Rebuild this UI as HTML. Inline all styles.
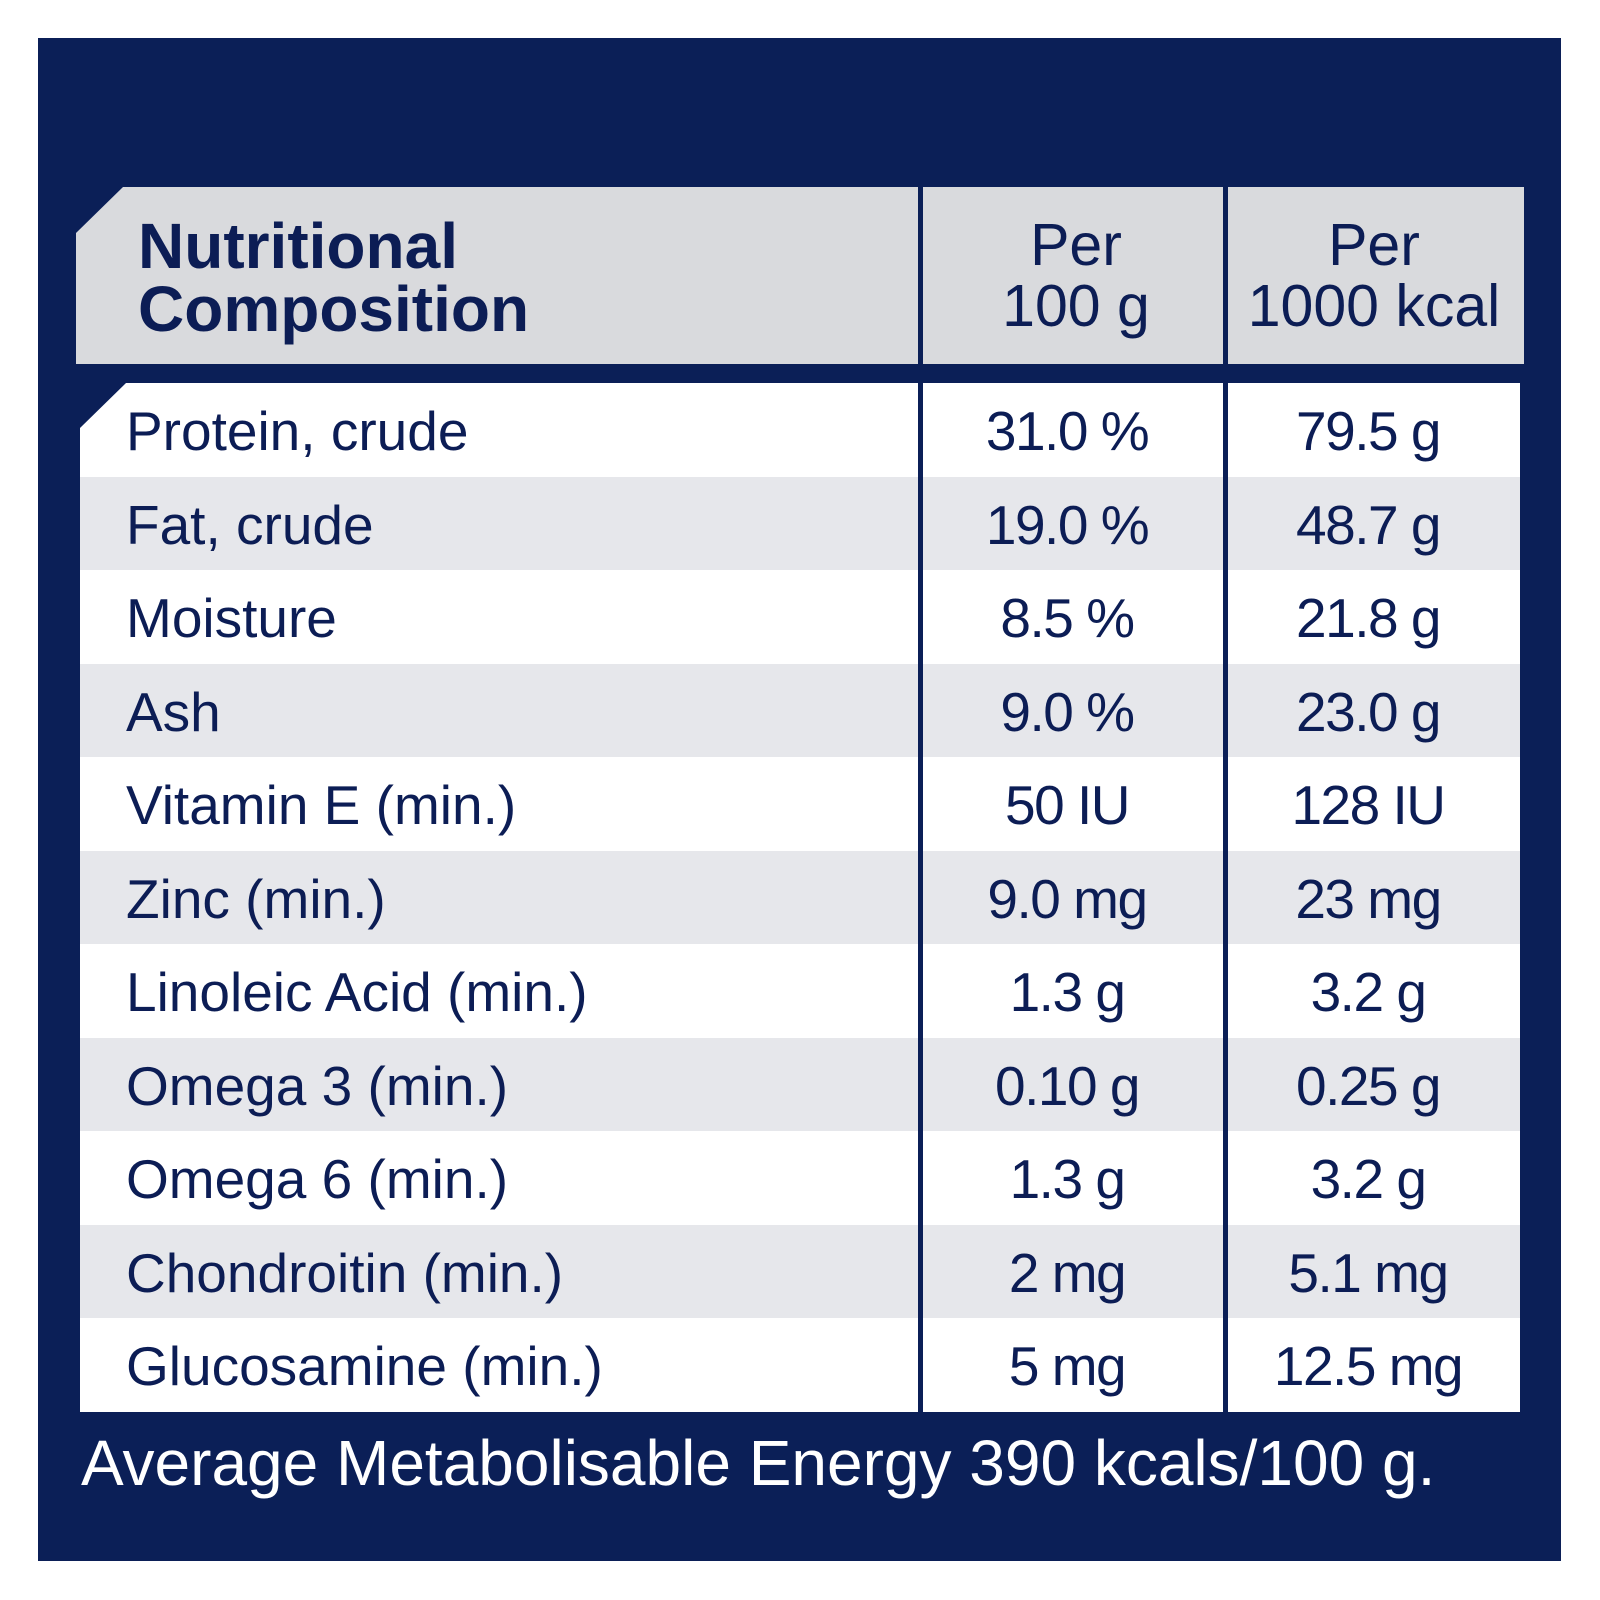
<!DOCTYPE html>
<html>
<head>
<meta charset="utf-8">
<style>
  html, body { margin:0; padding:0; }
  body { width:1600px; height:1600px; background:#ffffff; position:relative; overflow:hidden;
         font-family:"Liberation Sans", Arial, sans-serif; }
  .navy { position:absolute; left:38px; top:38px; width:1523px; height:1523px; background:#0b1f57; }
  .header { position:absolute; left:76px; top:187px; width:1448px; height:177px; background:#d9dadd;
            clip-path: polygon(47px 0, 100% 0, 100% 100%, 0 100%, 0 46px); }
  .bodyt { position:absolute; left:80px; top:383px; width:1440px; height:1029px; background:#ffffff;
           clip-path: polygon(46px 0, 100% 0, 100% 100%, 0 100%, 0 45px); overflow:hidden; }
  .row { position:absolute; left:0; width:1440px; height:93.5px; }
  .row.g { background:#e6e7eb; }
  .div { position:absolute; top:187px; height:1225px; width:5.6px; background:#0b1f57; }
  .t { position:absolute; color:#0c1d55; white-space:nowrap; }
  .lbl { left:126px; font-size:55px; line-height:93.5px; height:93.5px; }
  .v2 { left:917px; width:300px; text-align:center; font-size:55px; line-height:93.5px; letter-spacing:-1.5px; }
  .v3 { left:1222px; width:292px; text-align:center; font-size:55px; line-height:93.5px; letter-spacing:-1.5px; }
  .h1 { left:138px; top:215px; font-size:64px; font-weight:bold; line-height:63px; }
  .h2 { left:926px; width:300px; top:215px; text-align:center; font-size:59px; line-height:61px; }
  .h3 { left:1228px; width:292px; top:215px; text-align:center; font-size:59px; line-height:61px; }
  .foot { position:absolute; left:81px; top:1431px; font-size:64px; line-height:65px; color:#ffffff; white-space:nowrap; }
</style>
</head>
<body>
<div class="navy"></div>
<div class="header"></div>
<div class="bodyt">
  <div class="row" style="top:0px"></div>
  <div class="row g" style="top:93.5px"></div>
  <div class="row" style="top:187px"></div>
  <div class="row g" style="top:280.5px"></div>
  <div class="row" style="top:374px"></div>
  <div class="row g" style="top:467.5px"></div>
  <div class="row" style="top:561px"></div>
  <div class="row g" style="top:654.5px"></div>
  <div class="row" style="top:748px"></div>
  <div class="row g" style="top:841.5px"></div>
  <div class="row" style="top:935px"></div>
</div>
<div class="div" style="left:917.7px"></div>
<div class="div" style="left:1222.7px"></div>

<div class="t h1">Nutritional<br>Composition</div>
<div class="t h2">Per<br>100 g</div>
<div class="t h3">Per<br>1000 kcal</div>

<div class="t lbl" style="top:385px">Protein, crude</div>
<div class="t v2" style="top:385px">31.0 %</div>
<div class="t v3" style="top:385px">79.5 g</div>

<div class="t lbl" style="top:478.5px">Fat, crude</div>
<div class="t v2" style="top:478.5px">19.0 %</div>
<div class="t v3" style="top:478.5px">48.7 g</div>

<div class="t lbl" style="top:572px">Moisture</div>
<div class="t v2" style="top:572px">8.5 %</div>
<div class="t v3" style="top:572px">21.8 g</div>

<div class="t lbl" style="top:665.5px">Ash</div>
<div class="t v2" style="top:665.5px">9.0 %</div>
<div class="t v3" style="top:665.5px">23.0 g</div>

<div class="t lbl" style="top:759px">Vitamin E (min.)</div>
<div class="t v2" style="top:759px">50 IU</div>
<div class="t v3" style="top:759px">128 IU</div>

<div class="t lbl" style="top:852.5px">Zinc (min.)</div>
<div class="t v2" style="top:852.5px">9.0 mg</div>
<div class="t v3" style="top:852.5px">23 mg</div>

<div class="t lbl" style="top:946px">Linoleic Acid (min.)</div>
<div class="t v2" style="top:946px">1.3 g</div>
<div class="t v3" style="top:946px">3.2 g</div>

<div class="t lbl" style="top:1039.5px">Omega 3 (min.)</div>
<div class="t v2" style="top:1039.5px">0.10 g</div>
<div class="t v3" style="top:1039.5px">0.25 g</div>

<div class="t lbl" style="top:1133px">Omega 6 (min.)</div>
<div class="t v2" style="top:1133px">1.3 g</div>
<div class="t v3" style="top:1133px">3.2 g</div>

<div class="t lbl" style="top:1226.5px">Chondroitin (min.)</div>
<div class="t v2" style="top:1226.5px">2 mg</div>
<div class="t v3" style="top:1226.5px">5.1 mg</div>

<div class="t lbl" style="top:1320px">Glucosamine (min.)</div>
<div class="t v2" style="top:1320px">5 mg</div>
<div class="t v3" style="top:1320px">12.5 mg</div>

<div class="foot">Average Metabolisable Energy 390 kcals/100 g.</div>
</body>
</html>
